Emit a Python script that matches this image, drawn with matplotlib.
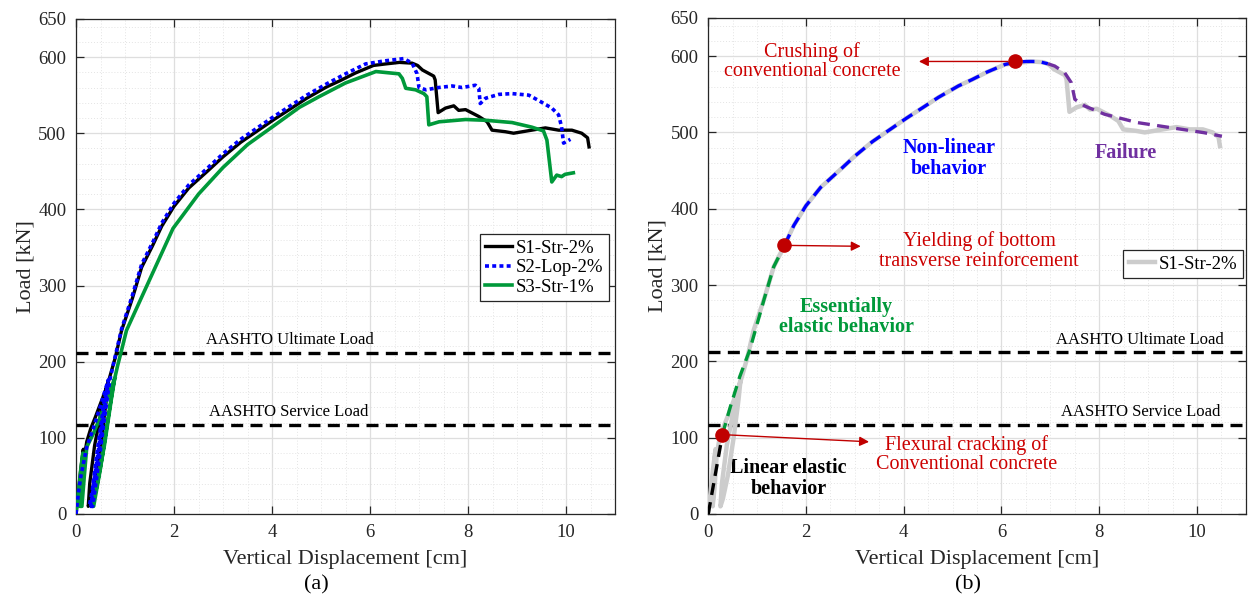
"""
Load-displacement response of the three slabs (a) and behaviour stages of S1 (b)
"""
import matplotlib.pyplot as plt
from matplotlib.ticker import MultipleLocator

plt.rcParams['font.family'] = ['Liberation Serif', 'DejaVu Serif']
plt.rcParams['mathtext.fontset'] = 'stix'

# ---- data ----
S1_x = [0, 0.05, 0.10, 0.15, 0.12, 0.10, 0.09, 0.13, 0.17, 0.22, 0.30, 0.40, 0.50, 0.60, 0.66, 0.62, 0.52,
        0.40, 0.30, 0.25, 0.28, 0.38, 0.50, 0.60, 0.68, 0.80, 0.93, 1.15, 1.34, 1.56, 1.75, 2.00, 2.30,
        2.68, 3.00, 3.36, 3.70, 4.04, 4.40, 4.71, 5.12, 5.39, 5.70, 6.07, 6.32, 6.60, 6.86, 6.97, 7.07,
        7.30, 7.33, 7.39, 7.54, 7.71, 7.81, 7.95, 8.22, 8.39, 8.49, 8.76, 8.93, 9.30, 9.58, 9.85, 10.12,
        10.32, 10.44, 10.47]
S1_y = [0, 30, 60, 85, 60, 30, 10, 35, 75, 95, 112, 128, 145, 162, 175, 150, 100,
        50, 20, 10, 40, 90, 130, 160, 178, 205, 241, 283, 324, 352, 378, 404, 428,
        450, 469, 488, 503, 518, 533, 546, 561, 569, 579, 589, 591, 593, 592, 589, 583,
        575, 570, 527, 533, 536, 530, 531, 522, 515, 504, 502, 500, 504, 507, 504, 504,
        500, 494, 482]

S2_x = [0, 0.05, 0.10, 0.22, 0.35, 0.50, 0.62, 0.66, 0.58, 0.45, 0.33, 0.27, 0.30, 0.42, 0.55, 0.65,
        0.60, 0.48, 0.36, 0.31, 0.34, 0.47, 0.58, 0.69, 0.80, 0.93, 1.15, 1.34, 1.56, 1.75, 2.00, 2.30,
        2.68, 3.00, 3.36, 3.70, 4.04, 4.40, 4.71, 5.12, 5.50, 5.91, 6.30, 6.69, 6.86, 6.96, 7.00, 7.14,
        7.40, 7.68, 7.88, 8.15, 8.22, 8.25, 8.36, 8.63, 8.90, 9.24, 9.44, 9.71, 9.85, 9.91, 9.95, 10.09]
S2_y = [0, 28, 50, 88, 112, 142, 168, 176, 150, 90, 30, 10, 10, 60, 120, 170,
        150, 95, 40, 10, 10, 70, 125, 176, 207, 243, 287, 328, 356, 382, 408, 432,
        454, 473, 492, 507, 522, 537, 550, 565, 578, 591, 595, 598, 592, 578, 560, 557,
        560, 562, 560, 563, 559, 539, 546, 551, 552, 550, 543, 533, 524, 508, 487, 492]

S3_x = [0, 0.05, 0.10, 0.14, 0.10, 0.08, 0.12, 0.17, 0.22, 0.35, 0.50, 0.65, 0.79, 0.72, 0.58, 0.42,
        0.33, 0.36, 0.50, 0.64, 0.75, 0.79, 0.85, 0.93, 1.03, 1.37, 1.98, 2.50, 3.00, 3.50, 4.00, 4.56,
        4.96, 5.50, 6.12, 6.59, 6.66, 6.73, 6.93, 7.10, 7.16, 7.20, 7.41, 7.95, 8.36, 8.90, 9.30, 9.54,
        9.61, 9.71, 9.81, 9.91, 9.98, 10.15]
S3_y = [0, 30, 60, 80, 40, 10, 10, 50, 88, 105, 128, 155, 178, 150, 90, 35,
        10, 10, 60, 120, 165, 178, 195, 215, 241, 289, 375, 420, 455, 485, 508, 534,
        548, 566, 581, 578, 572, 559, 557, 552, 548, 511, 515, 518, 517, 514, 508, 503,
        491, 436, 445, 443, 446, 448]

# behaviour stages of S1 (panel b)
lin_x = [0, 0.29]
lin_y = [0, 104]
ess_x = [0.29, 0.45, 0.645, 0.85, 1.15, 1.34, 1.56]
ess_y = [104, 140, 180, 215, 283, 324, 352]
non_x = [1.56, 1.75, 2.0, 2.3, 2.68, 3.0, 3.36, 3.7, 4.04, 4.4, 4.71, 5.12, 5.39, 5.7, 6.07, 6.27,
         6.5, 6.75, 6.95]
non_y = [352, 378, 404, 428, 450, 469, 488, 503, 518, 533, 546, 561, 569, 579, 589, 592,
         593, 593, 590]
fail_x = [6.95, 7.09, 7.29, 7.43, 7.5, 7.7, 8.11, 8.78, 9.46, 10.14, 10.51]
fail_y = [590, 587, 578.5, 565, 543.5, 534.7, 523.8, 512.9, 506.3, 499.7, 495]

key_x = [0.29, 1.56, 6.27]
key_y = [104, 352, 593]

ultimate_load = 212
service_load = 117

RED = '#cc0000'
DASH = (0, (3.6, 2.2))


def style_axes(ax):
    ax.set_xlim(0, 11)
    ax.set_ylim(0, 650)
    ax.set_xticks([0, 2, 4, 6, 8, 10])
    ax.set_yticks([0, 100, 200, 300, 400, 500, 600, 650])
    ax.xaxis.set_minor_locator(MultipleLocator(0.5))
    ax.yaxis.set_minor_locator(MultipleLocator(20))
    ax.grid(which='major', color='#dedede', lw=0.9, ls='-')
    ax.grid(which='minor', color='#e4e4e4', lw=0.7, ls=(0, (1, 2)))
    ax.set_axisbelow(True)
    ax.tick_params(which='major', direction='in', top=True, right=True, length=6,
                   width=0.9, colors='#262626', labelsize=13.5, pad=7)
    ax.tick_params(which='minor', length=0, top=True, right=True)
    for s in ax.spines.values():
        s.set_color('#262626')
        s.set_linewidth(0.9)
    ax.set_xlabel('Vertical Displacement [cm]', fontsize=16, color='#262626', labelpad=7)
    ax.set_ylabel('Load [kN]', fontsize=16, color='#262626', labelpad=2)
    ax.axhline(ultimate_load, color='black', lw=2.4, ls=DASH, zorder=3)
    ax.axhline(service_load, color='black', lw=2.4, ls=DASH, zorder=3)


fig = plt.figure(figsize=(12.48, 6.01), dpi=100)
ax1 = fig.add_axes([0.0609, 0.1448, 0.4319, 0.8236])
ax2 = fig.add_axes([0.5675, 0.1448, 0.4308, 0.8253])

# ---- (a) ----
style_axes(ax1)
ax1.plot(S1_x, S1_y, color='black', lw=2.4, label='S1-Str-2%', zorder=4)
ax1.plot(S2_x, S2_y, color='#0000ff', lw=2.6, ls=(0, (1.1, 0.9)), label='S2-Lop-2%', zorder=5)
ax1.plot(S3_x, S3_y, color='#00993a', lw=2.6, label='S3-Str-1%', zorder=4)
ax1.text(4.36, ultimate_load + 6, 'AASHTO Ultimate Load', ha='center', va='bottom', fontsize=12)
ax1.text(4.35, service_load + 6, 'AASHTO Service Load', ha='center', va='bottom', fontsize=12)
leg = ax1.legend(loc='lower right', bbox_to_anchor=(0.988, 0.43), fontsize=13.5,
                 fancybox=False, framealpha=1, edgecolor='#262626', borderaxespad=0,
                 handlelength=1.4, labelspacing=0.12, handletextpad=0.2, borderpad=0.3)
leg.get_frame().set_linewidth(0.9)

# ---- (b) ----
style_axes(ax2)
ax2.plot(S1_x, S1_y, color='#cccccc', lw=3.2, label='S1-Str-2%', zorder=4)
ax2.plot(lin_x, lin_y, color='black', lw=2.4, ls=DASH, zorder=5)
ax2.plot(ess_x, ess_y, color='#00993a', lw=2.4, ls=DASH, zorder=5)
ax2.plot(non_x, non_y, color='#0000ff', lw=2.4, ls=DASH, zorder=5)
ax2.plot(fail_x, fail_y, color='#7030a0', lw=2.4, ls=DASH, zorder=5)
ax2.plot(key_x, key_y, 'o', color='#c00000', ms=9.5, zorder=7)
ax2.text(8.83, ultimate_load + 6, 'AASHTO Ultimate Load', ha='center', va='bottom', fontsize=12)
ax2.text(8.85, service_load + 6, 'AASHTO Service Load', ha='center', va='bottom', fontsize=12)

arrow = dict(arrowstyle='-|>', color='#c00000', lw=1.0, mutation_scale=14, shrinkA=5, shrinkB=0)
ax2.annotate('', xy=(4.31, 593), xytext=(6.27, 593), arrowprops=arrow, zorder=6)
ax2.annotate('', xy=(3.12, 350.8), xytext=(1.56, 352), arrowprops=arrow, zorder=6)
ax2.annotate('', xy=(3.29, 94.6), xytext=(0.29, 104), arrowprops=arrow, zorder=6)

ax2.text(2.13, 593, 'Crushing of\nconventional concrete', color=RED, fontsize=14.5,
         ha='center', va='center', linespacing=1.05)
ax2.text(5.54, 345, 'Yielding of bottom\ntransverse reinforcement', color=RED, fontsize=14.5,
         ha='center', va='center', linespacing=1.05)
ax2.text(5.28, 78, 'Flexural cracking of\nConventional concrete', color=RED, fontsize=14.5,
         ha='center', va='center', linespacing=1.05)
ax2.text(1.64, 46.5, 'Linear elastic\nbehavior', color='black', fontsize=14.5, weight='bold',
         ha='center', va='center', linespacing=1.05)
ax2.text(2.82, 258, 'Essentially\nelastic behavior', color='#00993a', fontsize=14.5, weight='bold',
         ha='center', va='center', linespacing=1.05)
ax2.text(4.92, 466, 'Non-linear\nbehavior', color='#0000ff', fontsize=14.5, weight='bold',
         ha='center', va='center', linespacing=1.05)
ax2.text(8.55, 473.5, 'Failure', color='#7030a0', fontsize=14.5, weight='bold',
         ha='center', va='center')

leg2 = ax2.legend(loc='lower right', bbox_to_anchor=(0.995, 0.475), fontsize=13.5,
                  fancybox=False, framealpha=1, edgecolor='#262626', borderaxespad=0,
                  handlelength=1.4, handletextpad=0.2, borderpad=0.3)
leg2.get_frame().set_linewidth(0.9)

fig.text(316 / 1248, 1 - 585 / 601, '(a)', ha='center', va='center', fontsize=16)
fig.text(968 / 1248, 1 - 585 / 601, '(b)', ha='center', va='center', fontsize=16)

fig.savefig('out.png', dpi=100)
